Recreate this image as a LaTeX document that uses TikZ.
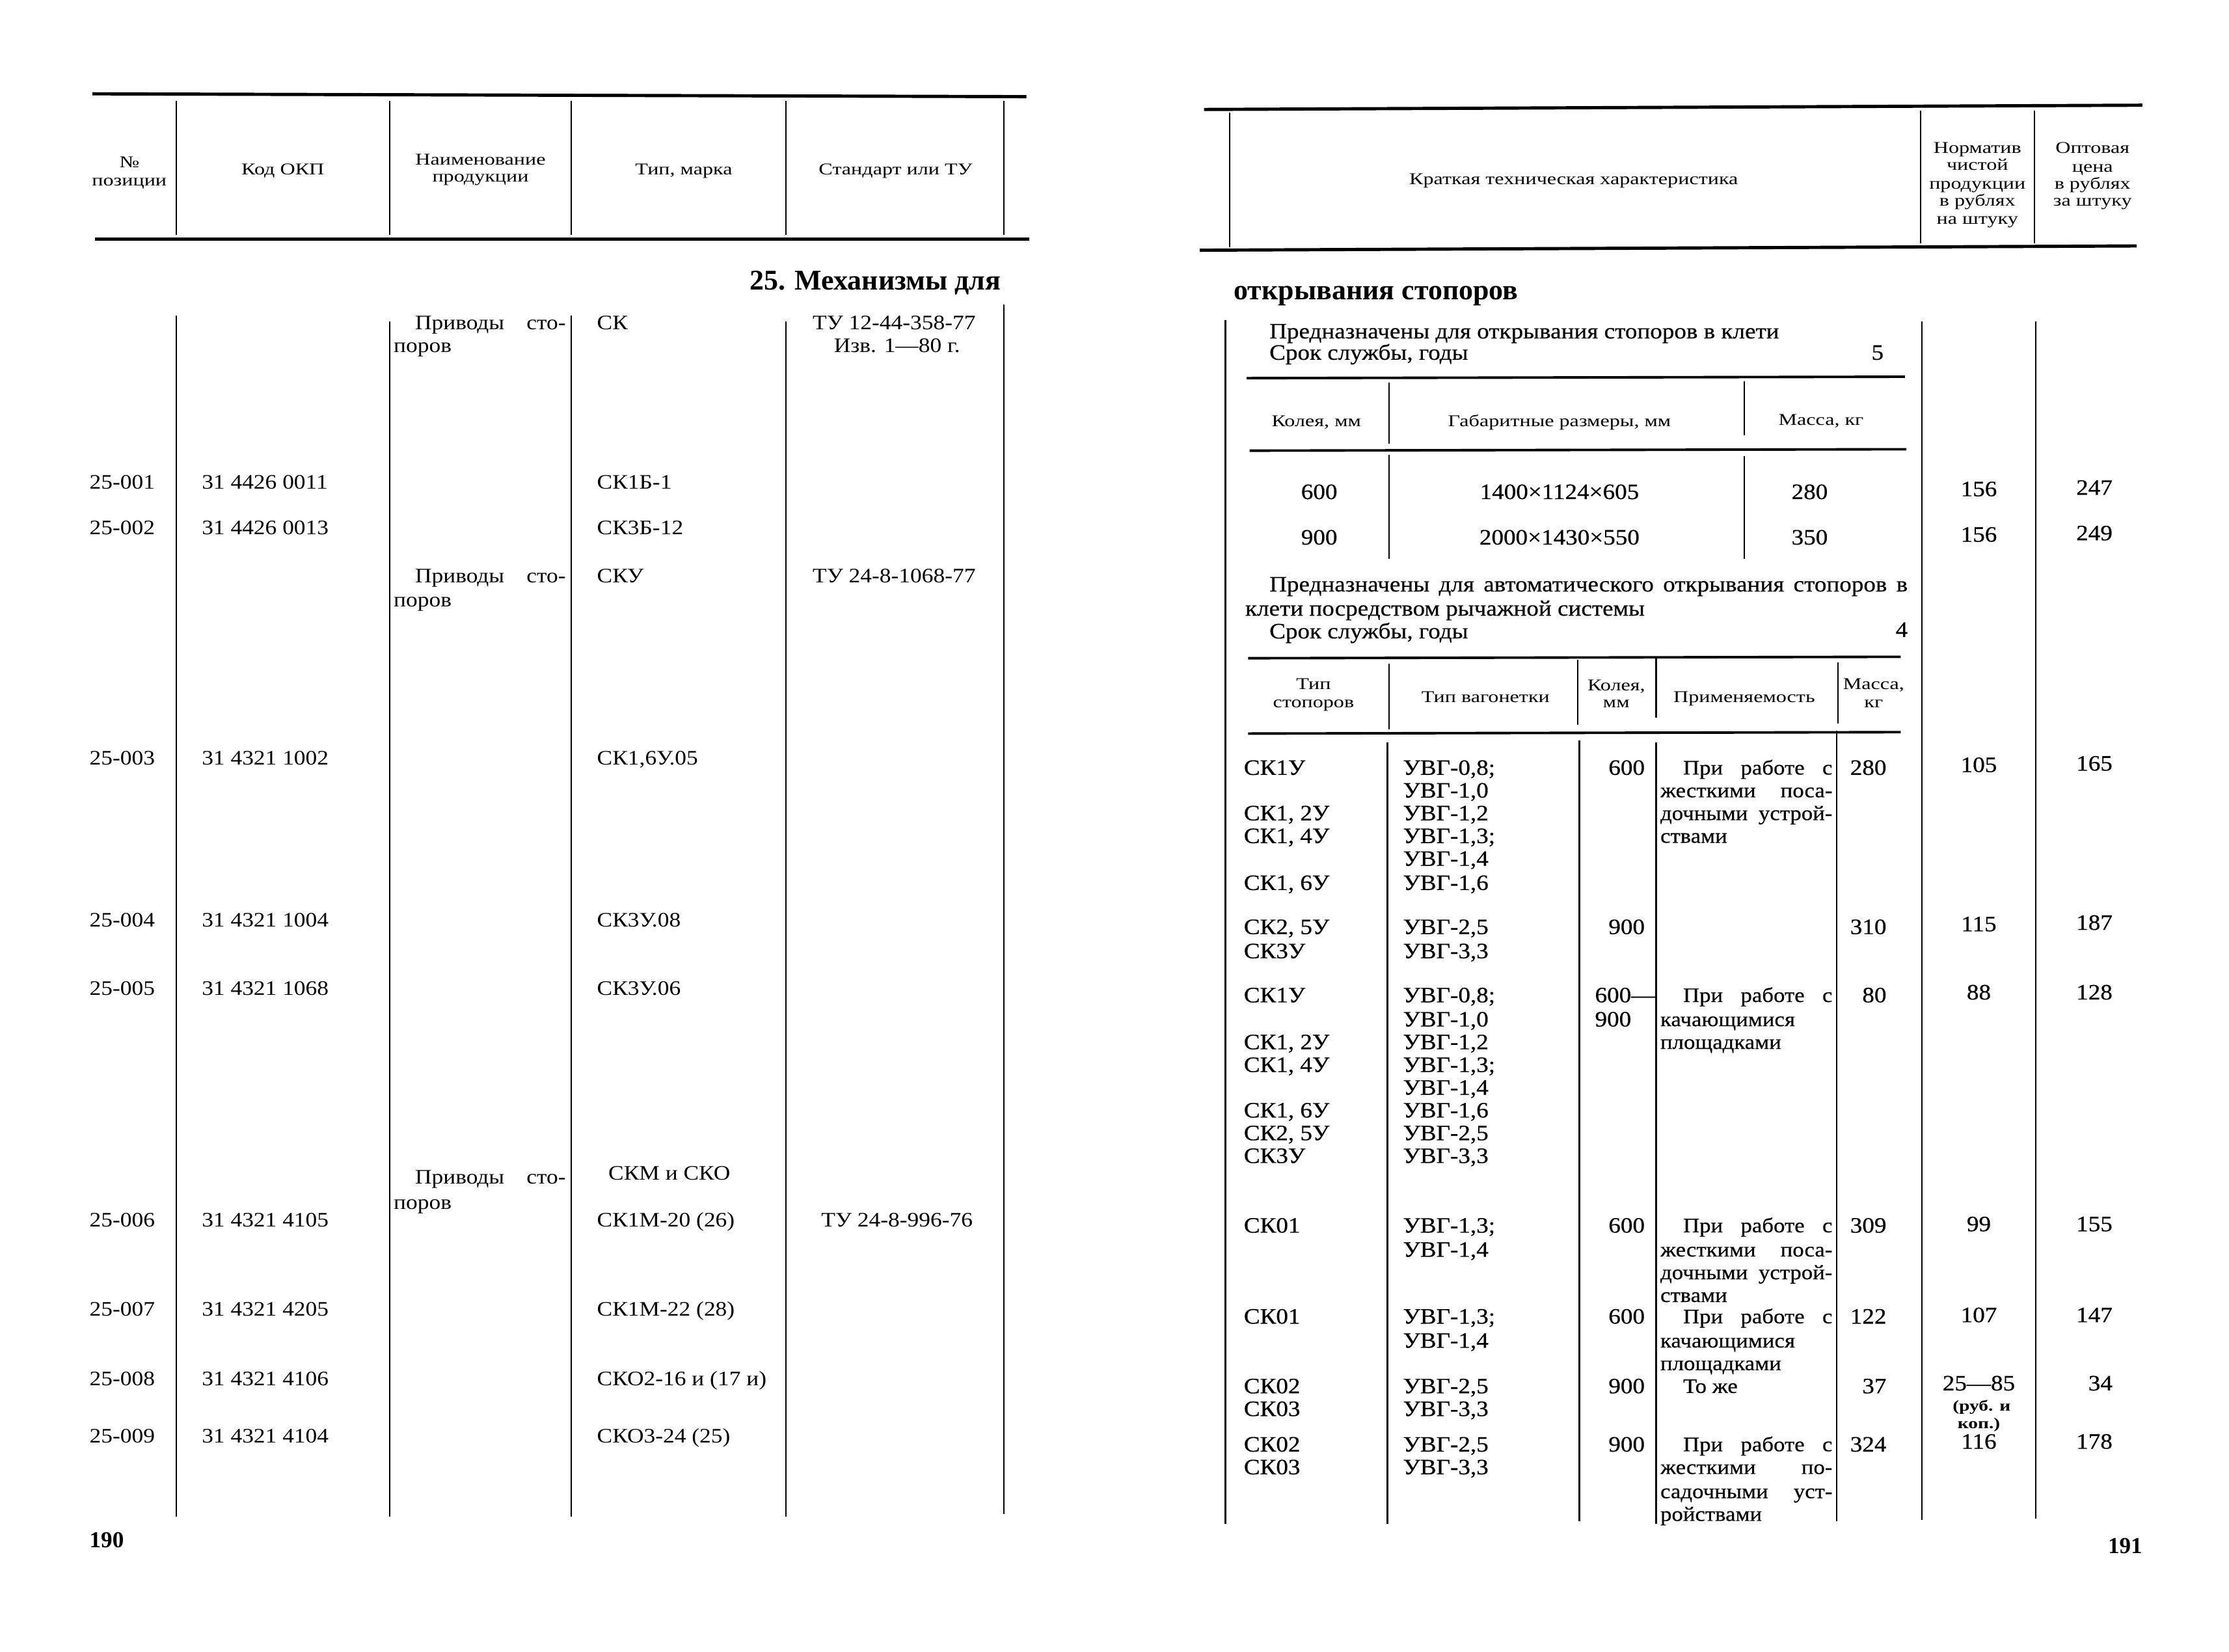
\documentclass[tikz,border=0pt]{standalone}
\usepackage{fontspec}
\setmainfont{Liberation Serif}
\newfontfamily\bodyf{Liberation Serif}[FakeStretch=1.12]
\newfontfamily\bodyr{Liberation Serif}[FakeStretch=1.1,FakeBold=0.5]
\newfontfamily\hdrf{Liberation Serif}[FakeStretch=1.27]
\newdimen\ux \ux=0.02185cm
\tikzset{
  every node/.style={inner sep=0pt, outer sep=0pt},
  bd/.style={font=\bodyf\fontsize{9}{10}\selectfont, yshift=-0.105cm},
  bl/.style={bd, anchor=base west},
  bc/.style={bd, anchor=base},
  br/.style={bd, anchor=base east},
  rbd/.style={font=\bodyr\fontsize{9.6}{10}\selectfont, yshift=-0.11cm},
  rl/.style={rbd, anchor=base west},
  rc/.style={rbd, anchor=base},
  rr/.style={rbd, anchor=base east},
  ra/.style={font=\bodyr\fontsize{9}{10}\selectfont, yshift=-0.105cm, anchor=base west},
  hc/.style={font=\hdrf\fontsize{7.2}{8}\selectfont, anchor=base, yshift=-0.085cm},
  sm/.style={font=\hdrf\bfseries\fontsize{6.6}{7}\selectfont, anchor=base, yshift=-0.08cm},
  ttl/.style={font=\bfseries\fontsize{12.5}{14}\selectfont, yshift=-0.15cm},
  pgn/.style={font=\bfseries\fontsize{10}{12}\selectfont, yshift=-0.12cm},
  rule/.style={line width=1.4pt},
  srule/.style={line width=1.1pt},
  vline/.style={line width=0.6pt}
}
\begin{document}
\begin{tikzpicture}[x=0.02185cm,y=-0.02185cm]
\fill[white] (0,0) rectangle (1568,1162);
\useasboundingbox (0,0) rectangle (1568,1162);

% ================= LEFT PAGE =================
\draw[rule] (65,66) -- (722,68);
\draw[rule] (67,168) -- (724,168);
\foreach \x in {124,274,402,553,706} \draw[vline] (\x,71) -- (\x,165);
\draw[vline] (124,222) -- (124,1067);
\draw[vline] (274,226) -- (274,1067);
\draw[vline] (402,222) -- (402,1067);
\draw[vline] (553,226) -- (553,1067);
\draw[vline] (706,214) -- (706,1065);

\node[hc] (h1a) at (91,114) {№};
\node[hc] (h1b) at (91,127) {позиции};
\node[hc] (h2) at (199,119) {Код ОКП};
\node[hc] (h3a) at (338,112) {Наименование};
\node[hc] (h3b) at (338,124) {продукции};
\node[hc] (h4) at (481,119) {Тип, марка};
\node[hc] (h5) at (630,119) {Стандарт или ТУ};

\node[ttl, anchor=base east] (title1) at (704,197) {25. Механизмы для};

% names column
\node[bl] (nm1a) at (292,227) {\makebox[106\ux][s]{Приводы сто-}};
\node[bl] (nm1b) at (277,243) {поров};
\node[bl] (nm2a) at (292,405) {\makebox[106\ux][s]{Приводы сто-}};
\node[bl] (nm2b) at (277,422) {поров};
\node[bl] (nm3a) at (292,828) {\makebox[106\ux][s]{Приводы сто-}};
\node[bl] (nm3b) at (277,846) {поров};

% positions and codes
\foreach \y/\a/\b [count=\i] in {339/25-001/{31 4426 0011}, 371/25-002/{31 4426 0013},
  533/25-003/{31 4321 1002}, 647/25-004/{31 4321 1004}, 695/25-005/{31 4321 1068},
  858/25-006/{31 4321 4105}, 921/25-007/{31 4321 4205}, 970/25-008/{31 4321 4106},
  1010/25-009/{31 4321 4104}} {
  \node[bl] (pos\i) at (63,\y) {\a};
  \node[bl] (okp\i) at (142,\y) {\b};
}
% types
\foreach \y/\t [count=\i] in {227/{СК}, 339/{СК1Б-1}, 371/{СК3Б-12}, 405/{СКУ},
  533/{СК1,6У.05}, 647/{СК3У.08}, 695/{СК3У.06}, 858/{СК1М-20 (26)},
  921/{СК1М-22 (28)}, 970/{СКО2-16 и (17 и)}, 1010/{СКО3-24 (25)}}
  \node[bl] (typ\i) at (420,\y) {\t};
\node[bl] (typm) at (428,825) {СКМ и СКО};
% standards
\node[bc] (st1a) at (629,227) {ТУ 12-44-358-77};
\node[bc] (st1b) at (631,243) {Изв. 1—80 г.};
\node[bc] (st2) at (629,405) {ТУ 24-8-1068-77};
\node[bc] (st3) at (631,858) {ТУ 24-8-996-76};

\node[pgn, anchor=base west] (pg190) at (63,1083) {190};

% ================= RIGHT PAGE =================
\draw[rule] (847,77) -- (1507,74);
\draw[rule] (844,176) -- (1503,173);
\draw[vline] (865,79) -- (865,174);
\draw[vline] (1351,78) -- (1351,171);
\draw[vline] (1431,78) -- (1431,171);
\draw[vline] (862,225) -- (862,1072);
\draw[vline] (1352,226) -- (1352,1069);
\draw[vline] (1432,226) -- (1432,1068);

\node[hc] (rh1) at (1107,126) {Краткая техническая характеристика};
\foreach \y/\t [count=\i] in {104/Норматив, 116/чистой, 129/продукции, 141/в рублях, 154/на штуку}
  \node[hc] (rh2\i) at (1391,\y) {\t};
\foreach \y/\t [count=\i] in {104/Оптовая, 117/цена, 129/в рублях, 141/за штуку}
  \node[hc] (rh3\i) at (1472,\y) {\t};

\node[ttl, anchor=base west] (title2) at (868,204) {открывания стопоров};

% first group
\node[rl] (p1a) at (893,233) {Предназначены для открывания стопоров в клети};
\node[rl] (p1b) at (893,248) {Срок службы, годы};
\node[rr] (p1c) at (1325,248) {5};

\draw[srule] (877,266) -- (1340,265);
\draw[srule] (879,317) -- (1341,316);
\draw[vline] (977,269) -- (977,312);
\draw[vline] (977,320) -- (977,393);
\draw[vline] (1227,268) -- (1227,306);
\draw[vline] (1227,321) -- (1227,393);
\node[hc] (s1a) at (926,296) {Колея, мм};
\node[hc] (s1b) at (1097,296) {Габаритные размеры, мм};
\node[hc] (s1c) at (1281,295) {Масса, кг};

\node[rc] (g1a) at (928,346) {600};
\node[rc] (g1b) at (1097,346) {1400×1124×605};
\node[rc] (g1c) at (1273,346) {280};
\node[rc] (g1d) at (1392,344) {156};
\node[rr] (g1e) at (1486,343) {247};
\node[rc] (g2a) at (928,378) {900};
\node[rc] (g2b) at (1097,378) {2000×1430×550};
\node[rc] (g2c) at (1273,378) {350};
\node[rc] (g2d) at (1392,376) {156};
\node[rr] (g2e) at (1486,375) {249};

% second group
\node[rl] (p2a) at (893,411) {\makebox[449\ux][s]{Предназначены для автоматического открывания стопоров в}};
\node[rl] (p2b) at (876,428) {клети посредством рычажной системы};
\node[rl] (p2c) at (893,444) {Срок службы, годы};
\node[rr] (p2d) at (1342,443) {4};

\draw[srule] (878,463) -- (1337,462);
\draw[srule] (878,516) -- (1337,515);
\draw[vline] (977,467) -- (977,513);
\draw[vline] (1110,464) -- (1110,510);
\draw[vline] (1165,463) -- (1165,505);
\draw[vline] (1293,466) -- (1293,509);
\draw[vline] (976,522) -- (976,1072);
\draw[vline] (1111,521) -- (1111,1070);
\draw[vline] (1165,522) -- (1165,1072);
\draw[vline] (1292,514) -- (1292,1070);

\node[hc] (s2a1) at (924,481) {Тип};
\node[hc] (s2a2) at (924,494) {стопоров};
\node[hc] (s2b) at (1045,490) {Тип вагонетки};
\node[hc] (s2c1) at (1137,482) {Колея,};
\node[hc] (s2c2) at (1137,494) {мм};
\node[hc] (s2d) at (1227,490) {Применяемость};
\node[hc] (s2e1) at (1318,481) {Масса,};
\node[hc] (s2e2) at (1318,494) {кг};

% type of stoppers
\foreach \y/\t [count=\i] in {540/{СК1У}, 572/{СК1, 2У}, 588/{СК1, 4У}, 621/{СК1, 6У},
  652/{СК2, 5У}, 669/{СК3У},
  700/{СК1У}, 733/{СК1, 2У}, 749/{СК1, 4У}, 781/{СК1, 6У}, 797/{СК2, 5У}, 813/{СК3У},
  862/{СК01}, 926/{СК01}, 975/{СК02}, 991/{СК03}, 1016/{СК02}, 1032/{СК03}}
  \node[rl] (ts\i) at (875,\y) {\t};
% type of wagon
\foreach \y/\t [count=\i] in {540/{УВГ-0,8;}, 556/{УВГ-1,0}, 572/{УВГ-1,2}, 588/{УВГ-1,3;}, 604/{УВГ-1,4}, 621/{УВГ-1,6},
  652/{УВГ-2,5}, 669/{УВГ-3,3},
  700/{УВГ-0,8;}, 717/{УВГ-1,0}, 733/{УВГ-1,2}, 749/{УВГ-1,3;}, 765/{УВГ-1,4}, 781/{УВГ-1,6}, 797/{УВГ-2,5}, 813/{УВГ-3,3},
  862/{УВГ-1,3;}, 879/{УВГ-1,4}, 926/{УВГ-1,3;}, 943/{УВГ-1,4},
  975/{УВГ-2,5}, 991/{УВГ-3,3}, 1016/{УВГ-2,5}, 1032/{УВГ-3,3}}
  \node[rl] (tv\i) at (987,\y) {\t};
% gauge
\foreach \y/\t [count=\i] in {540/600, 652/900, 862/600, 926/600, 975/900, 1016/900}
  \node[rr] (kg\i) at (1157,\y) {\t};
\node[rl] (kg7) at (1122,700) {600—};
\node[rl] (kg8) at (1122,717) {900};
% mass
\foreach \y/\t [count=\i] in {540/280, 652/310, 700/80, 862/309, 926/122, 975/37, 1016/324}
  \node[rr] (ms\i) at (1327,\y) {\t};
% norm
\foreach \y/\t [count=\i] in {538/105, 650/115, 698/88, 861/99, 925/107, 973/{25—85}, 1014/116}
  \node[rc] (nr\i) at (1392,\y) {\t};
\node[sm] (nr8) at (1394,989) {(руб. и};
\node[sm] (nr9) at (1392,1001) {коп.)};
% price
\foreach \y/\t [count=\i] in {537/165, 649/187, 698/128, 861/155, 925/147, 973/34, 1014/178}
  \node[rr] (pc\i) at (1486,\y) {\t};

% applicability
\node[ra] (ap1) at (1184,540) {\makebox[105\ux][s]{При работе с}};
\node[ra] (ap2) at (1168,556) {\makebox[121\ux][s]{жесткими поса-}};
\node[ra] (ap3) at (1168,572) {\makebox[121\ux][s]{дочными устрой-}};
\node[ra] (ap4) at (1168,588) {ствами};
\node[ra] (ap5) at (1184,700) {\makebox[105\ux][s]{При работе с}};
\node[ra] (ap6) at (1168,717) {качающимися};
\node[ra] (ap7) at (1168,733) {площадками};
\node[ra] (ap8) at (1184,862) {\makebox[105\ux][s]{При работе с}};
\node[ra] (ap9) at (1168,879) {\makebox[121\ux][s]{жесткими поса-}};
\node[ra] (ap10) at (1168,895) {\makebox[121\ux][s]{дочными устрой-}};
\node[ra] (ap11) at (1168,911) {ствами};
\node[ra] (ap12) at (1184,926) {\makebox[105\ux][s]{При работе с}};
\node[ra] (ap13) at (1168,943) {качающимися};
\node[ra] (ap14) at (1168,959) {площадками};
\node[ra] (ap15) at (1184,975) {То же};
\node[ra] (ap16) at (1184,1016) {\makebox[105\ux][s]{При работе с}};
\node[ra] (ap17) at (1168,1032) {\makebox[121\ux][s]{жесткими по-}};
\node[ra] (ap18) at (1168,1049) {\makebox[121\ux][s]{садочными уст-}};
\node[ra] (ap19) at (1168,1065) {ройствами};

\node[pgn, anchor=base east] (pg191) at (1507,1087) {191};
\end{tikzpicture}
\end{document}
